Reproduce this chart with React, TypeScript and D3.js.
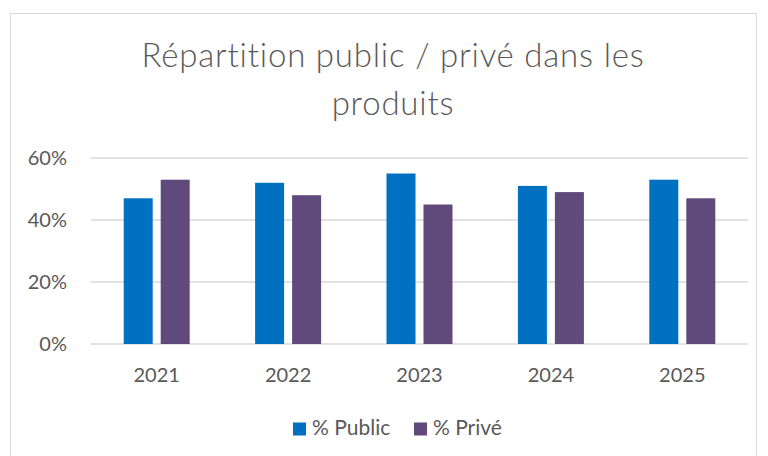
import React from "react";
import * as d3 from "d3";

const categories = ["2021", "2022", "2023", "2024", "2025"];
const publicValues = [0.47, 0.52, 0.55, 0.51, 0.53];
const priveValues = [0.53, 0.48, 0.45, 0.49, 0.47];
const seriesNames = ["% Public", "% Privé"];
const seriesColors = ["#0070C0", "#604A7B"];
const yTicks = [0, 0.2, 0.4, 0.6];
const titleLines = ["Répartition public / privé dans les", "produits"];

export default function App() {
  const W = 768, H = 456;
  const left = 91, right = 748, top = 158, bottom = 344;
  const x = d3.scaleBand<string>().domain(categories).range([left, right]);
  const y = d3.scaleLinear().domain([0, 0.6]).range([bottom, top]);
  const barW = 29, gap = 8;
  const font = "Lato, 'Open Sans', sans-serif";
  const textColor = "#595959";
  const series = [publicValues, priveValues];

  return (
    <svg width={W} height={H} style={{ position: "absolute", left: 0, top: 0 }} fontFamily={font}>
      <rect x={0} y={0} width={W} height={H} fill="#fff" />
      <rect x={10.5} y={13.5} width={746} height={460} fill="#fff" stroke="#D9D9D9" strokeWidth={1} />
      {titleLines.map((t, i) => (
        <text key={i} x={393} y={67 + i * 48} textAnchor="middle" fontSize={33} fontWeight={300}
          letterSpacing={0.8} fill={textColor}>
          {t}
        </text>
      ))}
      {yTicks.map((t) => (
        <g key={t}>
          <line x1={left} x2={right} y1={y(t)} y2={y(t)} stroke="#D9D9D9" strokeWidth={1.5} />
          <text x={67} y={y(t) + 7} textAnchor="end" fontSize={20} fill={textColor}>
            {d3.format(".0%")(t)}
          </text>
        </g>
      ))}
      {categories.map((c, i) => {
        const cx = (x(c) as number) + x.bandwidth() / 2;
        return (
          <g key={c}>
            {series.map((s, j) => {
              const bx = j === 0 ? cx - gap / 2 - barW : cx + gap / 2;
              return (
                <rect key={j} x={bx} y={y(s[i])} width={barW} height={bottom - y(s[i])} fill={seriesColors[j]} />
              );
            })}
            <text x={cx} y={382} textAnchor="middle" fontSize={20} fill={textColor}>
              {c}
            </text>
          </g>
        );
      })}
      {seriesNames.map((n, j) => {
        const lx = j === 0 ? 293 : 414;
        return (
          <g key={n}>
            <rect x={lx} y={422.5} width={13} height={13} fill={seriesColors[j]} />
            <text x={lx + 19} y={435} fontSize={21} fill={textColor}>
              {n}
            </text>
          </g>
        );
      })}
    </svg>
  );
}
